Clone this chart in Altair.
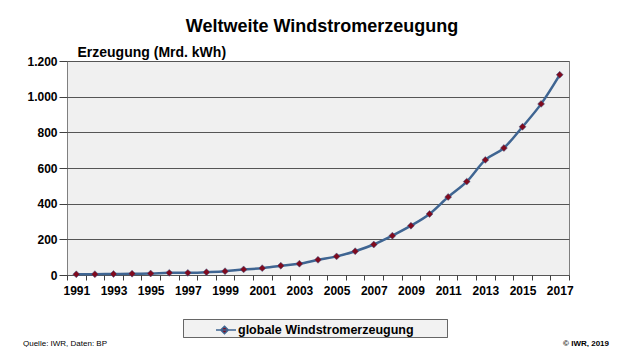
import altair as alt
import pandas as pd

# ---- data ----
years = list(range(1991, 2018))
values = [3.9, 4.7, 5.6, 7.3, 8.2, 12.1, 12.0, 15.9, 21.2, 31.4, 38.4, 52.2, 63.3,
          85.1, 104.3, 133.4, 170.9, 220.5, 276.5, 342.2, 437.4, 523.6, 645.4,
          712.0, 831.3, 959.5, 1122.7]
series_name = "globale Windstromerzeugung"
y_ticks = [0, 200, 400, 600, 800, 1000, 1200]
title_text = "Weltweite Windstromerzeugung"
y_title = "Erzeugung (Mrd. kWh)"
footer_left = ["Quelle: IWR, Daten: BP"]
footer_right = ["\u00a9 IWR, 2019"]

df = pd.DataFrame({"Jahr": years, "Wert": values, "Reihe": [series_name] * len(years)})
x_edges = [y - 0.5 for y in years] + [years[-1] + 0.5]

FONT = "Liberation Sans"
LINE = "#3f6592"
RED = "#800a1e"
W, H = 502, 214
band = W / len(years)

x_enc = alt.X(
    "Jahr:Q",
    scale=alt.Scale(domain=[x_edges[0], x_edges[-1]], nice=False, zero=False),
    axis=alt.Axis(
        values=x_edges,
        title=None,
        labelExpr="(datum.value + 0.5) % 2 == 1 && datum.value < 2017 ? '' + (datum.value + 0.5) : ''",
        labelOffset=band / 2,
        labelFlush=False,
        labelOverlap=False,
        labelBound=False,
        tickSize=5,
        labelPadding=5,
        grid=False,
        domain=False,
        labelFont=FONT,
        labelFontSize=12,
        labelFontWeight="bold",
        labelColor="black",
        tickColor="#404040",
    ),
)

y_enc = alt.Y(
    "Wert:Q",
    scale=alt.Scale(domain=[0, 1200], nice=False),
    axis=alt.Axis(
        values=y_ticks,
        labelExpr="replace(format(datum.value, ','), ',', '.')",
        labelOverlap=False,
        labelFlush=False,
        title=y_title,
        titleAngle=0,
        titleX=10,
        titleY=-5,
        titleAlign="left",
        titleBaseline="alphabetic",
        titleFont=FONT,
        titleFontSize=14,
        titleFontWeight="bold",
        titleColor="black",
        grid=True,
        gridColor="#555555",
        gridWidth=1,
        domain=False,
        tickSize=8,
        tickColor="#404040",
        labelPadding=2,
        labelFont=FONT,
        labelFontSize=12,
        labelFontWeight="bold",
        labelColor="black",
    ),
)


def make_legend():
    return alt.Legend(
        orient="none",
        legendX=116,
        legendY=258,
        title="MMM",
        titleOrient="right",
        titlePadding=3,
        titleColor="transparent",
        titleFont=FONT,
        titleFontSize=12,
        titleFontWeight="bold",
        padding=0,
        symbolType="M-1,0L1,0M-0.15,-0.38L0.23,0L-0.15,0.38L-0.53,0Z",
        symbolSize=400,
        symbolStrokeWidth=1.5,
        symbolOffset=32,
        labelOffset=1,
        labelLimit=400,
        labelFont=FONT,
        labelFontSize=12.5,
        labelFontWeight="bold",
        labelColor="black",
        fillColor="#f2f2f2",
        strokeColor="#666666",
    )


base = alt.Chart(df)

line = base.mark_line(interpolate="monotone", strokeWidth=2.5).encode(
    x=x_enc,
    y=y_enc,
    color=alt.Color("Reihe:N", scale=alt.Scale(range=[LINE]), legend=make_legend()),
)

points = base.mark_point(
    shape="diamond", filled=True, size=48, opacity=1, stroke=LINE, strokeWidth=0.5,
).encode(
    x=x_enc,
    y=y_enc,
    fill=alt.Fill("Reihe:N", scale=alt.Scale(range=[RED]), legend=make_legend()),
)

foot_l = alt.Chart(pd.DataFrame({"t": footer_left})).mark_text(
    align="left", baseline="alphabetic", font=FONT, fontSize=8, color="black"
).encode(x=alt.value(-44), y=alt.value(285), text="t:N")

foot_r = alt.Chart(pd.DataFrame({"t": footer_right})).mark_text(
    align="right", baseline="alphabetic", font=FONT, fontSize=8, fontWeight="bold", color="black"
).encode(x=alt.value(542), y=alt.value(285), text="t:N")

chart = (
    alt.layer(line, points, foot_l, foot_r)
    .properties(
        width=W,
        height=H,
        title=alt.TitleParams(
            title_text, font=FONT, fontSize=18, fontWeight="bold", color="black",
            anchor="middle", frame="group", offset=13, dx=4, dy=18, baseline="alphabetic",
        ),
        autosize=alt.AutoSizeParams(type="none"),
        padding={"left": 59, "top": 53, "right": 50, "bottom": 72},
    )
    .configure(background="white")
    .configure_view(fill="#f0f0f0", stroke="#7f7f7f", strokeWidth=1)
)

chart.save("out.html", embed_options={"renderer": "svg", "actions": False})
